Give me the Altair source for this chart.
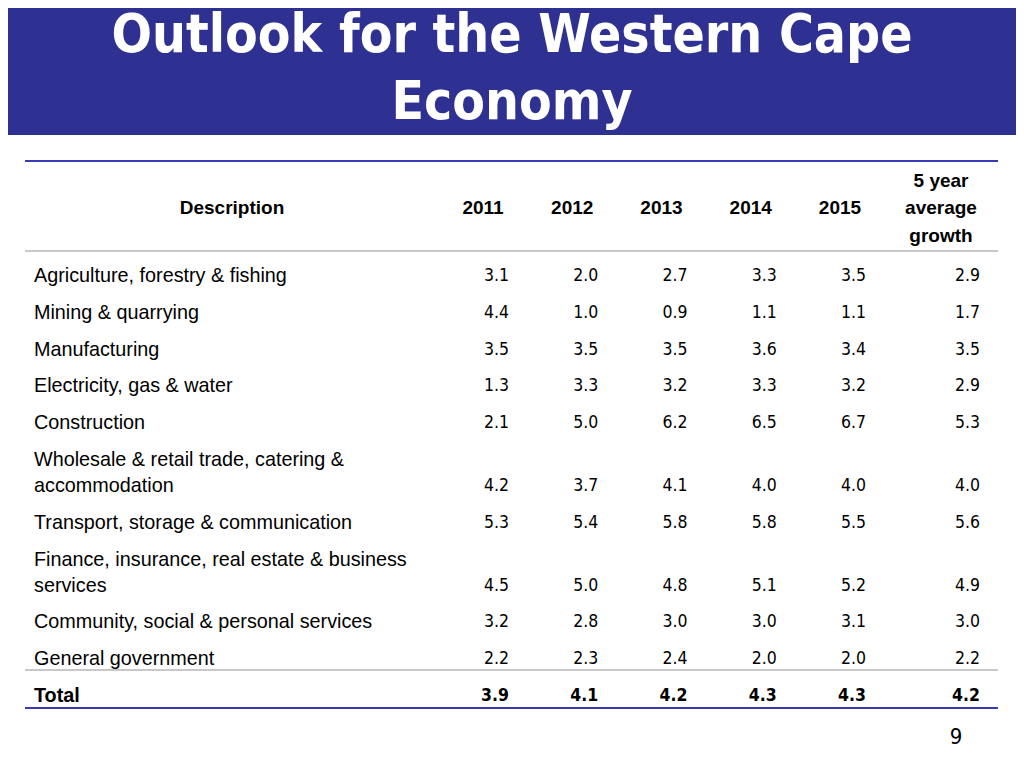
import altair as alt
import pandas as pd

title_text = ["Outlook for the Western Cape", "Economy"]
descriptions = [
    "Agriculture, forestry & fishing",
    "Mining & quarrying",
    "Manufacturing",
    "Electricity, gas & water",
    "Construction",
    "Wholesale & retail trade, catering &\naccommodation",
    "Transport, storage & communication",
    "Finance, insurance, real estate & business\nservices",
    "Community, social & personal services",
    "General government",
    "Total",
]
years = ["2011", "2012", "2013", "2014", "2015"]
v2011 = [3.1, 4.4, 3.5, 1.3, 2.1, 4.2, 5.3, 4.5, 3.2, 2.2, 3.9]
v2012 = [2.0, 1.0, 3.5, 3.3, 5.0, 3.7, 5.4, 5.0, 2.8, 2.3, 4.1]
v2013 = [2.7, 0.9, 3.5, 3.2, 6.2, 4.1, 5.8, 4.8, 3.0, 2.4, 4.2]
v2014 = [3.3, 1.1, 3.6, 3.3, 6.5, 4.0, 5.8, 5.1, 3.0, 2.0, 4.3]
v2015 = [3.5, 1.1, 3.4, 3.2, 6.7, 4.0, 5.5, 5.2, 3.1, 2.0, 4.3]
avg5 = [2.9, 1.7, 3.5, 2.9, 5.3, 4.0, 5.6, 4.9, 3.0, 2.2, 4.2]
header_desc = "Description"
header_avg = "5 year\naverage\ngrowth"
page_number = "9"

# ---- layout of rows (slot units: one single-line row = 1) ----
Y_TOP, Y_BOTTOM = 268, 688
EXTRA = 0.7065  # extra height of a two-line row, in slots
slots = []
acc = 0.0
for i, d in enumerate(descriptions):
    if "\n" in d:
        acc += EXTRA
    slots.append(i + acc)
max_slot = slots[-1]
total_idx = len(descriptions) - 1

# one record per printed line of a description; last line sits on the row's level
desc_recs = []
for i, d in enumerate(descriptions):
    parts = d.split("\n")
    n = len(parts)
    for k, p in enumerate(parts):
        desc_recs.append({"row": i, "line": p, "slot": slots[i] - (n - 1 - k) * EXTRA,
                          "bold": i == total_idx})
desc_df = pd.DataFrame(desc_recs)

series = dict(zip(years, [v2011, v2012, v2013, v2014, v2015]))
recs = []
for c, vals in series.items():
    for i, v in enumerate(vals):
        recs.append({"col": c, "row": i, "slot": slots[i], "label": f"{v:.1f}", "bold": i == total_idx})
vals_df = pd.DataFrame(recs)
avg_df = pd.DataFrame({"row": list(range(len(avg5))), "slot": slots,
                       "label": [f"{v:.1f}" for v in avg5],
                       "bold": [i == total_idx for i in range(len(avg5))]})
years_df = pd.DataFrame({"col": years})

NARROW = "DejaVu Sans Condensed, sans-serif"
SANS = "Liberation Sans, Arial, Helvetica, sans-serif"
TITLE_FONT = "DejaVu Sans Condensed, DejaVu Sans, sans-serif"
BLUE = "#2E3192"
LINE_BLUE = "#3A3AB4"
GRAY = "#C8C8C8"

xcol = alt.X("col:N", scale=alt.Scale(type="point", domain=years, range=[501, 858], padding=0), axis=None)
yslot = alt.Y("slot:Q", scale=alt.Scale(domain=[0, max_slot], range=[Y_TOP, Y_BOTTOM]), axis=None)

one = pd.DataFrame({"k": [0]})

band = alt.Chart(one).mark_rect(color=BLUE).encode(
    x=alt.value(0), x2=alt.value(1008), y=alt.value(0), y2=alt.value(127))

title = alt.Chart(one).mark_text(
    text="\n".join(title_text), lineBreak="\n", lineHeight=67, font=TITLE_FONT,
    fontWeight="bold", fontSize=53, color="white", align="center", baseline="alphabetic"
).encode(x=alt.value(504), y=alt.value(44))

def rule(y, color, x1=17, x2=990, w=2):
    return alt.Chart(one).mark_rule(color=color, strokeWidth=w).encode(
        x=alt.value(x1), x2=alt.value(x2), y=alt.value(y))

rules = [rule(153, LINE_BLUE), rule(243, GRAY), rule(662, GRAY), rule(700, LINE_BLUE)]

hdr_desc = alt.Chart(one).mark_text(
    text=header_desc, font=SANS, fontWeight="bold", fontSize=19, color="black",
    align="center", baseline="middle").encode(x=alt.value(224), y=alt.value(200))

hdr_years = alt.Chart(years_df).mark_text(
    font=SANS, fontWeight="bold", fontSize=19, color="black", align="center",
    baseline="middle", dx=-26).encode(x=xcol, y=alt.value(200), text="col:N")

hdr_avg = alt.Chart(one).mark_text(
    text=header_avg, lineBreak="\n", lineHeight=27.5, font=SANS, fontWeight="bold",
    fontSize=19, color="black", align="center", baseline="middle"
).encode(x=alt.value(933), y=alt.value(172.5))

desc_norm = alt.Chart(desc_df).transform_filter("!datum.bold").mark_text(
    font=SANS, fontSize=19.8, color="black", align="left", baseline="middle"
).encode(x=alt.value(26), y=yslot, text="line:N")
desc_bold = alt.Chart(desc_df).transform_filter("datum.bold").mark_text(
    font=SANS, fontSize=19.8, fontWeight="bold", color="black", align="left", baseline="middle"
).encode(x=alt.value(26), y=yslot, text="line:N")

num_norm = alt.Chart(vals_df).transform_filter("!datum.bold").mark_text(
    font=NARROW, fontSize=17.5, color="black", align="right", baseline="middle"
).encode(x=xcol, y=yslot, text="label:N")
num_bold = alt.Chart(vals_df).transform_filter("datum.bold").mark_text(
    font=NARROW, fontSize=17.5, fontWeight="bold", color="black", align="right", baseline="middle"
).encode(x=xcol, y=yslot, text="label:N")

avg_norm = alt.Chart(avg_df).transform_filter("!datum.bold").mark_text(
    font=NARROW, fontSize=17.5, color="black", align="right", baseline="middle"
).encode(x=alt.value(972), y=yslot, text="label:N")
avg_bold = alt.Chart(avg_df).transform_filter("datum.bold").mark_text(
    font=NARROW, fontSize=17.5, fontWeight="bold", color="black", align="right", baseline="middle"
).encode(x=alt.value(972), y=yslot, text="label:N")

page = alt.Chart(one).mark_text(
    text=page_number, font=NARROW, fontSize=22, color="black", align="center", baseline="middle"
).encode(x=alt.value(948), y=alt.value(729))

chart = alt.layer(
    band, title, *rules, hdr_desc, hdr_years, hdr_avg,
    desc_norm, desc_bold, num_norm, num_bold, avg_norm, avg_bold, page
).properties(width=1008, height=752, padding=0, autosize="none").configure_view(stroke=None)

chart.save("out.html", embed_options={"renderer": "svg", "actions": False})
